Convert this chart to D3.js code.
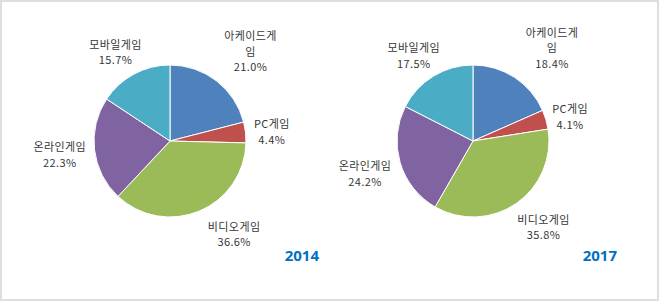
<!DOCTYPE html>
<html>
<head>
<meta charset="utf-8">
<script src="https://cdn.jsdelivr.net/npm/d3@7"></script>
<style>
  body { margin: 0; background: #fff; }
  svg text { font-family: "Noto Sans CJK KR", "Noto Sans", sans-serif; }
</style>
</head>
<body>
<script>
// data
var categories = ["아케이드게임", "PC게임", "비디오게임", "온라인게임", "모바일게임"];
var years = ["2014", "2017"];
var share2014 = [21.0, 4.4, 36.6, 22.3, 15.7];
var share2017 = [18.4, 4.1, 35.8, 24.2, 17.5];

var colors = ["#4F81BD", "#C0504D", "#9BBB59", "#8064A2", "#4BACC6"];

var WIDTH = 660;
var HEIGHT = 302;
var R = 76;
var CY = 141;
var PANEL_CX = [170, 473];
var LINE_H = 15.5;
var GAP = 7;
var WRAP_W = 58;
// excel's "best fit" moves labels off the middle of their slice:
// angle shift in degrees and radial shift in px, per chart
var NUDGE_ANGLE = [[4, 1, -12, 0, -3], [7, 2, -5, 0, -3]];
var NUDGE_RADIAL = [[3, 0, 2, 0, -5], [5, -4, -1, 0, -6]];

var svg = d3.select("body")
            .append("svg")
            .attr("width", WIDTH)
            .attr("height", HEIGHT);

svg.append("rect")
   .attr("x", 1).attr("y", 1)
   .attr("width", WIDTH - 3).attr("height", HEIGHT - 3)
   .attr("fill", "none")
   .attr("stroke", "#dedede")
   .attr("stroke-width", 2);

var pie = d3.pie().sort(null).startAngle(0).endAngle(2 * Math.PI).value(d => d);
var arc = d3.arc().innerRadius(0).outerRadius(R);

var wrap = function(textSel, str) {
    // greedy char wrap like excel does for long names
    var lines = [];
    var cur = "";
    for (var ch of str) {
        textSel.text(cur + ch);
        if (cur && textSel.node().getComputedTextLength() > WRAP_W) {
            lines.push(cur);
            cur = ch;
        } else {
            cur += ch;
        }
    }
    lines.push(cur);
    return lines;
};

var drawPie = function(values, year, idx) {
    var cx = PANEL_CX[idx];
    var g = svg.append("g").attr("transform", "translate(" + cx + "," + CY + ")");

    var arcs = pie(values);

    g.selectAll("path.slice")
     .data(arcs)
     .enter()
     .append("path")
     .classed("slice", true)
     .attr("d", arc)
     .attr("fill", (d, i) => colors[i])
     .attr("stroke", "#fff")
     .attr("stroke-width", 1);

    arcs.forEach((d, i) => {
        var lbl = g.append("text")
                   .attr("text-anchor", "middle")
                   .attr("fill", "#363636")
                   .style("font-size", "11px")
                   .style("letter-spacing", "0.4px");
        var lines = wrap(lbl, categories[i]);
        lines.push(d3.format(".1f")(values[i]) + "%");
        lbl.text(null);

        var tspans = lbl.selectAll("tspan")
                        .data(lines)
                        .enter()
                        .append("tspan")
                        .text(s => s);
        var w = d3.max(tspans.nodes(), n => n.getComputedTextLength());
        var h = lines.length * LINE_H;

        var a = (d.startAngle + d.endAngle) / 2 + NUDGE_ANGLE[idx][i] * Math.PI / 180;
        var ux = Math.sin(a), uy = -Math.cos(a);
        var ext = Math.abs(ux) * w / 2 + Math.abs(uy) * h / 2;
        var dist = R + GAP + ext + NUDGE_RADIAL[idx][i];
        var bx = ux * dist, by = uy * dist;

        tspans.attr("x", bx)
              .attr("y", (s, k) => by - h / 2 + LINE_H * (k + 0.5))
              .attr("dominant-baseline", "central");
    });

    g.append("text")
     .attr("x", R + 73 - idx * 5)
     .attr("y", 120)
     .attr("text-anchor", "end")
     .attr("fill", "#0070C0")
     .style("font-size", "15px")
     .style("font-weight", "bold")
     .style("font-family", "'Noto Sans', 'DejaVu Sans', sans-serif")
     .text(year);
};

drawPie(share2014, years[0], 0);
drawPie(share2017, years[1], 1);
</script>
</body>
</html>
